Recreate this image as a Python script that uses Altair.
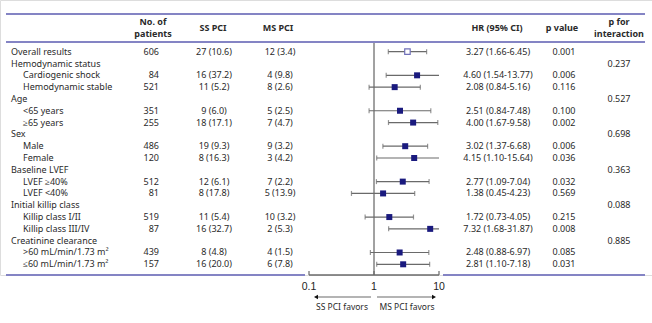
import altair as alt
import pandas as pd

labels = ["Overall results", "Hemodynamic status", "Cardiogenic shock", "Hemodynamic stable",
          "Age", "<65 years", "≥65 years", "Sex", "Male", "Female", "Baseline LVEF",
          "LVEF ≥40%", "LVEF <40%", "Initial killip class", "Killip class I/II",
          "Killip class III/IV", "Creatinine clearance", ">60 mL/min/1.73 m²", "≤60 mL/min/1.73 m²"]
indent = [0, 0, 1, 1, 0, 1, 1, 0, 1, 1, 0, 1, 1, 0, 1, 1, 0, 1, 1]
n_patients = ["606", "", "84", "521", "", "351", "255", "", "486", "120", "", "512", "81", "",
              "519", "87", "", "439", "157"]
ss_pci = ["27 (10.6)", "", "16 (37.2)", "11 (5.2)", "", "9 (6.0)", "18 (17.1)", "", "19 (9.3)",
          "8 (16.3)", "", "12 (6.1)", "8 (17.8)", "", "11 (5.4)", "16 (32.7)", "", "8 (4.8)", "16 (20.0)"]
ms_pci = ["12 (3.4)", "", "4 (9.8)", "8 (2.6)", "", "5 (2.5)", "7 (4.7)", "", "9 (3.2)", "3 (4.2)",
          "", "7 (2.2)", "5 (13.9)", "", "10 (3.2)", "2 (5.3)", "", "4 (1.5)", "6 (7.8)"]
hr = [3.27, None, 4.60, 2.08, None, 2.51, 4.00, None, 3.02, 4.15, None, 2.77, 1.38, None, 1.72,
      7.32, None, 2.48, 2.81]
hr_lo = [1.66, None, 1.54, 0.84, None, 0.84, 1.67, None, 1.37, 1.10, None, 1.09, 0.45, None, 0.73,
         1.68, None, 0.88, 1.10]
hr_hi = [6.45, None, 13.77, 5.16, None, 7.48, 9.58, None, 6.68, 15.64, None, 7.04, 4.23, None, 4.05,
         31.87, None, 6.97, 7.18]
p_value = ["0.001", "", "0.006", "0.116", "", "0.100", "0.002", "", "0.006", "0.036", "", "0.032",
           "0.569", "", "0.215", "0.008", "", "0.085", "0.031"]
p_interaction = ["", "0.237", "", "", "0.527", "", "", "0.698", "", "", "0.363", "", "", "0.088",
                 "", "", "0.885", "", ""]
axis_ticks = [0.1, 1, 10]
axis_labels = ["0.1", "1", "10"]

hr_text = ["" if h is None else f"{h:.2f} ({l:.2f}-{u:.2f})" for h, l, u in zip(hr, hr_lo, hr_hi)]

df = pd.DataFrame({
    "row": list(range(len(labels))), "label": labels, "indent": indent, "n": n_patients,
    "ss": ss_pci, "ms": ms_pci, "hr": hr, "lo": hr_lo, "hi": hr_hi, "hrtext": hr_text,
    "p": p_value, "pint": p_interaction,
})

FONT = "Noto Sans"
FS = 9
TXT = "#2a2a2a"
NAVY = "#1a1a7e"
PURPLE = "#8484c4"
GRAY = "#6a6a6a"

yscale = alt.Scale(domain=[0, 18], range=[51.7, 264.3])
xscale = alt.Scale(type="log", domain=[0.1, 10], range=[309, 439], clamp=True)
Y = alt.Y("row:Q", scale=yscale, axis=None)

base = alt.Chart(df)


def col_text(field, x, align, filt=None):
    c = base.mark_text(align=align, baseline="middle", font=FONT, fontSize=FS, color=TXT)
    if filt is not None:
        c = c.transform_filter(filt)
    return c.encode(x=alt.value(x), y=Y, text=f"{field}:N")


layers = []
layers.append(col_text("label", 11, "left", "datum.indent == 0"))
layers.append(col_text("label", 23, "left", "datum.indent == 1"))
layers.append(col_text("n", 159, "right"))
layers.append(col_text("ss", 214, "center"))
layers.append(col_text("ms", 280, "center"))
layers.append(col_text("hrtext", 498, "center"))
layers.append(col_text("p", 564, "center"))
layers.append(col_text("pint", 619, "center"))

one = pd.DataFrame({"k": [0]})

# reference line at 1
layers.append(alt.Chart(one).mark_rule(color="#444444", strokeWidth=1).encode(
    x=alt.X("xv:Q", scale=xscale, axis=None), y=alt.value(43), y2=alt.value(275)
).transform_calculate(xv="1"))

est = base.transform_filter("datum.hr != null")
# CI lines
layers.append(est.mark_rule(color=GRAY, strokeWidth=1.2).encode(
    x=alt.X("lo:Q", scale=xscale, axis=None), x2="hi:Q", y=Y))
# caps
layers.append(est.transform_filter("datum.lo >= 0.1").mark_tick(
    orient="vertical", color=GRAY, size=5, thickness=1.2).encode(
    x=alt.X("lo:Q", scale=xscale, axis=None), y=Y))
layers.append(est.transform_filter("datum.hi <= 10").mark_tick(
    orient="vertical", color=GRAY, size=5, thickness=1.2).encode(
    x=alt.X("hi:Q", scale=xscale, axis=None), y=Y))
# squares
layers.append(est.transform_filter("datum.row > 0").mark_square(
    size=36, color=NAVY, opacity=1).encode(x=alt.X("hr:Q", scale=xscale, axis=None), y=Y))
layers.append(est.transform_filter("datum.row == 0").mark_square(
    size=30, filled=True, fill="white", stroke="#7070b8", strokeWidth=1.2, opacity=1).encode(
    x=alt.X("hr:Q", scale=xscale, axis=None), y=Y))

# horizontal purple rules
for y in [14, 42]:
    layers.append(alt.Chart(one).mark_rule(color=PURPLE, strokeWidth=2).encode(
        x=alt.value(6), x2=alt.value(645), y=alt.value(y)))
layers.append(alt.Chart(one).mark_rule(color=PURPLE, strokeWidth=2).encode(
    x=alt.value(6), x2=alt.value(305), y=alt.value(275)))
layers.append(alt.Chart(one).mark_rule(color=PURPLE, strokeWidth=2).encode(
    x=alt.value(443), x2=alt.value(645), y=alt.value(275)))

# axis
ax = pd.DataFrame({"t": axis_ticks, "lab": axis_labels})
layers.append(alt.Chart(ax).mark_rule(color=GRAY, strokeWidth=1.5).encode(
    x=alt.X("min(t):Q", scale=xscale, axis=None), x2="max(t):Q", y=alt.value(275)))
layers.append(alt.Chart(ax).mark_rule(color=GRAY, strokeWidth=1.2).encode(
    x=alt.X("t:Q", scale=xscale, axis=None), y=alt.value(271), y2=alt.value(275)))
layers.append(alt.Chart(ax).mark_text(font="Liberation Sans", fontSize=10.5, color="#222222",
                                      baseline="middle").encode(
    x=alt.X("t:Q", scale=xscale, axis=None), y=alt.value(287), text="lab:N"))

# arrows
layers.append(alt.Chart(one).mark_rule(color=GRAY, strokeWidth=1.2).encode(
    x=alt.value(317), x2=alt.value(371), y=alt.value(297)))
layers.append(alt.Chart(one).mark_rule(color=GRAY, strokeWidth=1.2).encode(
    x=alt.value(377), x2=alt.value(432), y=alt.value(297)))
layers.append(alt.Chart(one).mark_point(shape="triangle-left", filled=True, size=22,
                                        color="#111111", opacity=1).encode(
    x=alt.value(316), y=alt.value(297)))
layers.append(alt.Chart(one).mark_point(shape="triangle-right", filled=True, size=22,
                                        color="#111111", opacity=1).encode(
    x=alt.value(434), y=alt.value(297)))
layers.append(alt.Chart(one).mark_text(font=FONT, fontSize=8.5, color=TXT, baseline="middle").encode(
    x=alt.value(342), y=alt.value(307), text=alt.value("SS PCI favors")))
layers.append(alt.Chart(one).mark_text(font=FONT, fontSize=8.5, color=TXT, baseline="middle").encode(
    x=alt.value(407), y=alt.value(307), text=alt.value("MS PCI favors")))

# headers
headers = [("No. of", 153, 22), ("patients", 153, 34), ("SS PCI", 213, 28), ("MS PCI", 278, 28),
           ("HR (95% CI)", 497, 28), ("p value", 562, 28), ("p for", 619, 22), ("interaction", 619, 34)]
for txt, x, y in headers:
    layers.append(alt.Chart(one).mark_text(font=FONT, fontSize=FS, fontWeight="bold", color=TXT,
                                           baseline="middle", align="center").encode(
        x=alt.value(x), y=alt.value(y), text=alt.value(txt)))

chart = alt.layer(*layers).properties(
    width=652, height=275,
    padding={"left": 0, "top": 0, "right": 0, "bottom": 48},
    autosize=alt.AutoSizeParams(type="none"),
).configure_view(strokeWidth=0).configure(background="white")

chart.save("out.html", embed_options={"renderer": "svg", "actions": False})
